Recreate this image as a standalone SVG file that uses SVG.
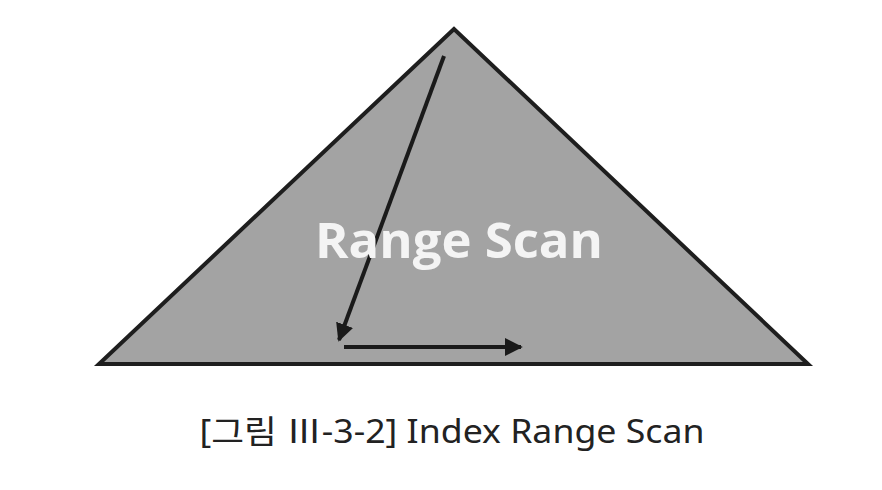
<svg xmlns="http://www.w3.org/2000/svg" width="882" height="490" viewBox="0 0 882 490">
<style>
.tri{fill:#a3a3a3;stroke:#1e1e1e;stroke-width:4;stroke-linejoin:miter}
.arr{stroke:#1a1a1a;stroke-width:4;fill:none}
.label{font-family:"Open Sans","Noto Sans",sans-serif;font-weight:bold;fill:#f4f4f4}
.cap{font-family:"Noto Sans","Noto Sans CJK KR",sans-serif;fill:#222}
</style>
<defs>
<marker id="ah" viewBox="0 0 10 10" refX="9" refY="5" markerWidth="4.5" markerHeight="4.5" orient="auto" markerUnits="strokeWidth">
<path d="M0,0 L10,5 L0,10 z" fill="#1a1a1a"/>
</marker>
</defs>
<rect width="882" height="490" fill="#ffffff"/>
<g id="index-tree">
<polygon class="tri" points="454,29 99,364 808,364"/>
</g>
<g id="connectors">
<line class="arr" x1="444" y1="56" x2="339" y2="340" marker-end="url(#ah)"/>
<line class="arr" x1="344" y1="347" x2="521" y2="347" marker-end="url(#ah)"/>
</g>
<g id="range-scan-label">
<text class="label" x="459" y="258" font-size="48" text-anchor="middle" textLength="288" lengthAdjust="spacingAndGlyphs">Range Scan</text>
</g>
<g id="caption">
<text class="cap" x="452" y="443" font-size="32" text-anchor="middle" textLength="505" lengthAdjust="spacingAndGlyphs">[그림 Ⅲ-3-2] Index Range Scan</text>
</g>
</svg>
